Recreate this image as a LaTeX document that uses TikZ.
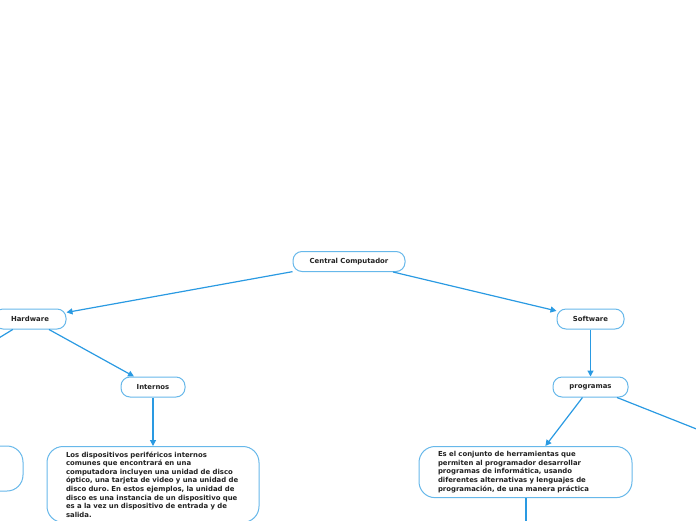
\documentclass[tikz,border=0pt]{standalone}
\usepackage{fontspec}
\setmainfont{DejaVu Sans}
\usetikzlibrary{arrows.meta}
\definecolor{linkblue}{HTML}{2A9AE2}
\definecolor{boxblue}{HTML}{67B8EA}
\definecolor{inkgray}{HTML}{222222}
\frenchspacing

\begin{document}
\begin{tikzpicture}[
        x=1pt, y=-1pt,
        every node/.style={draw=boxblue, line width=1pt, fill=white, text=inkgray,
            font=\bfseries\fontsize{6.9}{8.6}\selectfont},
        topic/.style={rounded corners=9pt, minimum height=20pt, inner xsep=4pt},
        note/.style={rounded corners=16pt, align=left, inner xsep=19pt, inner ysep=5pt},
        link/.style={draw=linkblue, line width=1.2pt, -{Triangle[length=6pt,width=6pt]}},
        stub/.style={draw=linkblue, line width=1.2pt},
    ]
    \useasboundingbox (0,0) rectangle (696,520);
    \clip (0,0) rectangle (696,520);
    % main topics
    \node[topic, minimum width=112pt](central) at (349,261.5){Central Computador};
    \node[topic, minimum width=72pt](hardware) at (30,319){Hardware};
    \node[topic, minimum width=67pt](software) at (590.5,319){Software};
    \node[topic, minimum width=64pt](internos) at (153,387){Internos};
    \node[topic, minimum width=75pt](programas) at (590.5,387){programas};
    % notes
    \node[note, text width=174pt, anchor=north](intnote) at (153,446){%
        Los dispositivos periféricos internos\\
        comunes que encontrará en una\\
        computadora incluyen una unidad de disco\\
        óptico, una tarjeta de video y una unidad de\\
        disco duro. En estos ejemplos, la unidad de\\
        disco es una instancia de un dispositivo que\\
        es a la vez un dispositivo de entrada y de\\
        salida.};
    \node[note, text width=175pt, anchor=north](prognote) at (525.5,446){%
        Es el conjunto de herramientas que\\
        permiten al programador desarrollar\\
        programas de informática, usando\\
        diferentes alternativas y lenguajes de\\
        programación, de una manera práctica};
    \node[note, minimum width=203pt, minimum height=45pt](extnote) at (-78.5,468.5){};
    % free ends outside the page
    \coordinate (offleft) at (-80,386);
    \coordinate (offright) at (800,470);
    \coordinate (offdown) at (526,600);
    % connectors
    \draw[link] (central) -- (hardware);
    \draw[link] (central) -- (software);
    \draw[link] (hardware) -- (internos);
    \draw[link] (internos) -- (intnote);
    \draw[link] (software) -- (programas);
    \draw[link] (programas) -- (prognote);
    \draw[stub] (hardware) -- (offleft);
    \draw[stub] (programas) -- (offright);
    \draw[stub] (prognote.south -| offdown) -- (offdown);
\end{tikzpicture}
\end{document}
